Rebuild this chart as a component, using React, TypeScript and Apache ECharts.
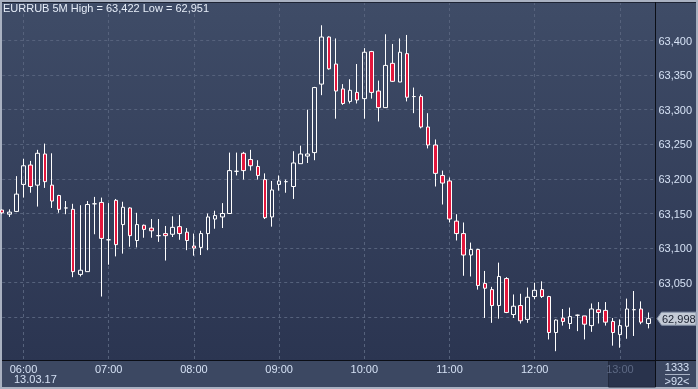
import React, { useEffect, useRef } from 'react';
import * as echarts from 'echarts';

// ---- data (EURRUB, 5-minute candles, 13.03.17 05:45 – 13:20) ----
const startTime = '05:45';
const stepMinutes = 5;
const opens = [
  63.155, 63.149, 63.153, 63.192, 63.220, 63.191, 63.236, 63.191, 63.176, 63.158,
  63.156, 63.062, 63.066, 63.164, 63.166, 63.112, 63.169, 63.134, 63.158, 63.111,
  63.133, 63.129, 63.118, 63.121, 63.120, 63.131, 63.123, 63.103, 63.101, 63.121,
  63.142, 63.145, 63.150, 63.211, 63.237, 63.228, 63.218, 63.199, 63.145, 63.192,
  63.196, 63.189, 63.222, 63.233, 63.238, 63.337, 63.405, 63.366, 63.330, 63.312,
  63.325, 63.316, 63.384, 63.327, 63.303, 63.367, 63.340, 63.381, 63.319, 63.319,
  63.275, 63.249, 63.205, 63.197, 63.139, 63.121, 63.090, 63.098, 63.049, 63.040,
  63.017, 63.056, 63.004, 63.017, 62.997, 63.030, 63.040, 63.030, 62.978, 62.999,
  62.991, 63.003, 63.002, 62.988, 63.011, 63.010, 62.994, 62.975, 62.987, 63.011,
  63.012, 62.991,
];
const closes = [
  63.151, 63.152, 63.178, 63.219, 63.189, 63.237, 63.196, 63.168, 63.156, 63.158,
  63.066, 63.068, 63.163, 63.164, 63.114, 63.112, 63.105, 63.159, 63.118, 63.134,
  63.127, 63.125, 63.118, 63.118, 63.130, 63.121, 63.111, 63.100, 63.121, 63.145,
  63.147, 63.150, 63.212, 63.211, 63.212, 63.219, 63.205, 63.144, 63.184, 63.197,
  63.196, 63.223, 63.236, 63.236, 63.332, 63.405, 63.359, 63.327, 63.309, 63.328,
  63.314, 63.383, 63.325, 63.303, 63.364, 63.341, 63.383, 63.318, 63.319, 63.275,
  63.249, 63.208, 63.194, 63.142, 63.121, 63.090, 63.098, 63.046, 63.042, 63.017,
  63.059, 63.007, 63.016, 62.995, 63.029, 63.039, 63.030, 62.978, 62.996, 62.994,
  63.001, 63.003, 62.990, 63.012, 63.007, 62.993, 62.978, 62.988, 63.012, 63.011,
  62.993, 62.998,
];
const lows = [
  63.149, 63.145, 63.152, 63.173, 63.180, 63.160, 63.187, 63.158, 63.151, 63.149,
  63.058, 63.059, 63.066, 63.120, 63.030, 63.076, 63.088, 63.092, 63.102, 63.101,
  63.115, 63.115, 63.109, 63.082, 63.116, 63.112, 63.097, 63.089, 63.090, 63.097,
  63.128, 63.129, 63.150, 63.205, 63.199, 63.212, 63.199, 63.142, 63.131, 63.183,
  63.180, 63.171, 63.222, 63.223, 63.227, 63.321, 63.358, 63.287, 63.307, 63.309,
  63.309, 63.287, 63.316, 63.283, 63.303, 63.340, 63.340, 63.312, 63.295, 63.273,
  63.244, 63.189, 63.163, 63.137, 63.111, 63.060, 63.059, 63.040, 62.999, 62.992,
  62.998, 63.006, 62.999, 62.991, 62.992, 63.026, 63.028, 62.968, 62.951, 62.988,
  62.983, 62.980, 62.968, 62.979, 62.991, 62.988, 62.959, 62.956, 62.969, 62.973,
  62.990, 62.984,
];
const highs = [
  63.156, 63.156, 63.204, 63.229, 63.226, 63.242, 63.251, 63.237, 63.177, 63.168,
  63.164, 63.162, 63.168, 63.174, 63.173, 63.165, 63.171, 63.167, 63.159, 63.151,
  63.134, 63.142, 63.142, 63.132, 63.146, 63.148, 63.129, 63.121, 63.125, 63.150,
  63.154, 63.165, 63.238, 63.238, 63.239, 63.242, 63.227, 63.208, 63.197, 63.205,
  63.199, 63.240, 63.248, 63.300, 63.333, 63.422, 63.406, 63.403, 63.337, 63.344,
  63.366, 63.389, 63.385, 63.342, 63.409, 63.395, 63.403, 63.408, 63.332, 63.322,
  63.295, 63.257, 63.212, 63.202, 63.149, 63.137, 63.108, 63.099, 63.067, 63.044,
  63.079, 63.058, 63.033, 63.034, 63.043, 63.050, 63.052, 63.031, 62.997, 63.012,
  63.014, 63.004, 63.002, 63.020, 63.022, 63.022, 62.999, 62.997, 63.027, 63.038,
  63.023, 63.007,
];
const priceTickMin = 63.0;
const priceTickMax = 63.4;
const priceTickStep = 0.05;
const symbolName = 'EURRUB 5M';
const dateLabel = '13.03.17';
const totalBars = '1333';
const visibleBars = '>' + opens.length + '<';
const dimmedTimeLabel = '13:00';

// ---- layout ----
const W = 698;
const H = 389;
const STEP = 7.1;
const PLOT_L = 2.2;
const PLOT_R = PLOT_L + STEP * opens.length; // one empty slot after last candle
const PLOT_T = 2;
const PLOT_B = 360;
const TICK_TOP_PX = 40.5; // pixel of priceTickMax
const TICK_BOT_PX = 317.3; // pixel of priceTickMin

const FONT = "'Liberation Sans Narrow', 'Arial Narrow', 'Liberation Sans', Arial, sans-serif";
const TEXT = '#d5e1f4';
const GRID = '#56627c';
const FRAME = '#a9b1c1';
const LINE = '#0b0e16';

const fmt = (v: number) => v.toFixed(3).replace('.', ',');

function buildCategories(): string[] {
  const [h, m] = startTime.split(':').map(Number);
  const out: string[] = [];
  for (let i = 0; i <= opens.length; i++) {
    const t = h * 60 + m + i * stepMinutes;
    out.push(String(Math.floor(t / 60)).padStart(2, '0') + ':' + String(t % 60).padStart(2, '0'));
  }
  return out;
}

export default function App() {
  const ref = useRef<HTMLDivElement>(null);
  useEffect(() => {
    if (!ref.current) return;
    const chart = echarts.init(ref.current, undefined, { renderer: 'svg', width: W, height: H });
    const categories = buildCategories();
    const data = opens.map((o, i) => [o, closes[i], lows[i], highs[i]]);
    const pxPerUnit = (TICK_BOT_PX - TICK_TOP_PX) / (priceTickMax - priceTickMin);
    const yMin0 = priceTickMin - (PLOT_B - TICK_BOT_PX) / pxPerUnit;
    const yMax0 = priceTickMax + (TICK_TOP_PX - PLOT_T) / pxPerUnit;
    const isHour = (i: number) => i % 12 === 3;
    const hi = Math.max(...highs);
    const lo = Math.min(...lows);

    chart.setOption({
      animation: false,
      grid: [
        { left: PLOT_L, right: W - PLOT_R, top: PLOT_T, bottom: H - PLOT_B },
        { left: PLOT_L, right: W - PLOT_R, top: TICK_TOP_PX, bottom: H - TICK_BOT_PX },
      ],
      xAxis: [
        {
          type: 'category',
          gridIndex: 0,
          data: categories,
          boundaryGap: false,
          axisLine: { show: false },
          axisTick: { show: false },
          axisLabel: {
            interval: (i: number) => isHour(i),
            color: TEXT,
            fontSize: 11,
            fontFamily: FONT,
            margin: 3,
            formatter: (v: string) => (v === dimmedTimeLabel ? '{dim|' + v + '}' : v),
            rich: { dim: { color: '#5d6984', fontSize: 11, fontFamily: FONT } },
          },
          splitLine: {
            show: true,
            interval: (i: number) => isHour(i),
            lineStyle: { color: GRID, type: [3, 3], width: 1 },
          },
        },
        { type: 'value', gridIndex: 1, show: false },
      ],
      yAxis: [
        { type: 'value', gridIndex: 0, min: yMin0, max: yMax0, show: false, scale: true },
        {
          type: 'value',
          gridIndex: 1,
          position: 'right',
          min: priceTickMin,
          max: priceTickMax,
          interval: priceTickStep,
          axisLine: { show: false },
          axisTick: { show: false },
          axisLabel: {
            color: TEXT,
            fontSize: 11,
            fontFamily: FONT,
            margin: 3,
            formatter: (v: number) => (Math.abs(v - priceTickMin) < 1e-6 ? '' : fmt(v)),
          },
          splitLine: { show: true, lineStyle: { color: GRID, type: [3, 3], width: 1 } },
        },
      ],
      series: [
        {
          type: 'candlestick',
          xAxisIndex: 0,
          yAxisIndex: 0,
          data,
          barWidth: 4,
          itemStyle: {
            color: 'rgba(0,0,0,0)',
            color0: '#e3173d',
            borderColor: '#ffffff',
            borderColor0: '#ffffff',
            borderColorDoji: '#ffffff',
            borderWidth: 1,
          },
        },
      ],
    });

    const lastClose = closes[closes.length - 1];
    const ty = chart.convertToPixel({ yAxisIndex: 0 }, lastClose) as number;

    const bg = (o: any) => ({ ...o, z: -10, silent: true });
    const top = (o: any) => ({ ...o, z: 10, silent: true });
    const graphics: any[] = [
      bg({ type: 'rect', shape: { x: 0, y: 0, width: W, height: H }, style: { fill: FRAME } }),
      bg({
        type: 'rect',
        shape: { x: 2, y: 2, width: 694, height: PLOT_B - 2 },
        style: {
          fill: new echarts.graphic.LinearGradient(0, 0, 0, 1, [
            { offset: 0, color: '#3f4c67' },
            { offset: 1, color: '#2b3551' },
          ]),
        },
      }),
      bg({ type: 'rect', shape: { x: 2, y: PLOT_B, width: 694, height: H - PLOT_B - 2 }, style: { fill: '#3c4862' } }),
      bg({ type: 'rect', shape: { x: 608.5, y: PLOT_B + 1, width: 47, height: H - PLOT_B - 3 }, style: { fill: '#29334c', stroke: '#222a3e', lineWidth: 1 } }),
      top({ type: 'rect', shape: { x: 2, y: 2, width: 694, height: 1 }, style: { fill: '#1d2333' } }),
      top({ type: 'rect', shape: { x: 2, y: PLOT_B, width: 694, height: 1 }, style: { fill: LINE } }),
      top({ type: 'rect', shape: { x: 655, y: 2, width: 1, height: H - 4 }, style: { fill: LINE } }),
      top({
        type: 'text',
        x: 3,
        y: 8,
        style: {
          text: `${symbolName} High = ${fmt(hi)} Low = ${fmt(lo)}`,
          fill: '#e6edf8',
          font: `11px ${FONT}`,
          align: 'left',
          verticalAlign: 'middle',
          textAlign: 'left',
          textVerticalAlign: 'middle',
        },
      }),
      top({
        type: 'text',
        x: 14,
        y: 379,
        style: {
          text: dateLabel,
          fill: TEXT,
          font: `11px ${FONT}`,
          align: 'left',
          verticalAlign: 'middle',
          textAlign: 'left',
          textVerticalAlign: 'middle',
        },
      }),
      top({
        type: 'text',
        x: 677,
        y: 367,
        style: {
          text: totalBars,
          fill: TEXT,
          font: `11px ${FONT}`,
          align: 'center',
          verticalAlign: 'middle',
          textAlign: 'center',
          textVerticalAlign: 'middle',
        },
      }),
      top({ type: 'rect', shape: { x: 665, y: 374, width: 25, height: 1 }, style: { fill: '#aab4c6' } }),
      top({
        type: 'text',
        x: 677,
        y: 381,
        style: {
          text: visibleBars,
          fill: TEXT,
          font: `11px ${FONT}`,
          align: 'center',
          verticalAlign: 'middle',
          textAlign: 'center',
          textVerticalAlign: 'middle',
        },
      }),
      top({
        type: 'polygon',
        shape: {
          points: [
            [657, ty],
            [661.5, ty - 6.5],
            [696, ty - 6.5],
            [696, ty + 6.5],
            [661.5, ty + 6.5],
          ],
        },
        style: { fill: '#c4cbd6', stroke: '#8a96ab', lineWidth: 1 },
      }),
      top({
        type: 'text',
        x: 662,
        y: ty + 0.5,
        style: {
          text: fmt(lastClose),
          fill: '#1b2130',
          font: `11px ${FONT}`,
          align: 'left',
          verticalAlign: 'middle',
          textAlign: 'left',
          textVerticalAlign: 'middle',
        },
      }),
    ];
    chart.setOption({ graphic: { elements: graphics } });

    return () => chart.dispose();
  }, []);

  return <div ref={ref} style={{ position: 'fixed', left: 0, top: 0, width: W, height: H }} />;
}
